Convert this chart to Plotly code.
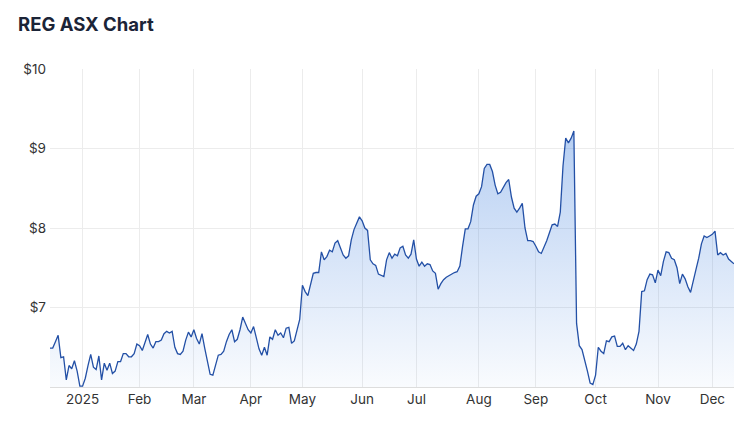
import pandas as pd
import plotly.graph_objects as go

# Daily closing prices (AUD), one list per month (ASX trading days)
dec_2024 = [6.49, 6.49, 6.57, 6.65, 6.37, 6.38, 6.09, 6.27, 6.23, 6.33, 6.20, 6.01]
jan_2025 = [6.01, 6.11, 6.27, 6.41, 6.25, 6.22, 6.39, 6.09, 6.30, 6.21, 6.30, 6.17, 6.20, 6.32,
            6.32, 6.42, 6.42, 6.38, 6.38, 6.42, 6.54]
feb_2025 = [6.52, 6.46, 6.55, 6.66, 6.54, 6.49, 6.57, 6.57, 6.59, 6.67, 6.70, 6.68, 6.70, 6.50,
            6.42, 6.41, 6.45, 6.59, 6.69, 6.63]
mar_2025 = [6.72, 6.61, 6.54, 6.67, 6.49, 6.30, 6.16, 6.15, 6.27, 6.40, 6.41, 6.45, 6.57, 6.66,
            6.72, 6.57, 6.60, 6.72, 6.88, 6.79, 6.72]
apr_2025 = [6.68, 6.76, 6.62, 6.48, 6.40, 6.50, 6.40, 6.63, 6.60, 6.72, 6.65, 6.68, 6.62, 6.74,
            6.75, 6.55, 6.58, 6.72, 6.85]
may_2025 = [7.28, 7.20, 7.15, 7.30, 7.43, 7.44, 7.44, 7.70, 7.60, 7.64, 7.72, 7.70, 7.81, 7.84,
            7.74, 7.66, 7.62, 7.65, 7.85, 7.98, 8.06, 8.14]
jun_2025 = [8.09, 8.00, 7.97, 7.60, 7.55, 7.53, 7.42, 7.40, 7.39, 7.60, 7.69, 7.62, 7.67, 7.65,
            7.75, 7.77, 7.66, 7.62, 7.67, 7.85]
jul_2025 = [7.61, 7.52, 7.57, 7.52, 7.55, 7.54, 7.46, 7.43, 7.23, 7.30, 7.35, 7.38, 7.40, 7.43,
            7.44, 7.45, 7.52, 7.77, 7.99, 7.99, 8.08, 8.29, 8.40]
aug_2025 = [8.43, 8.52, 8.75, 8.80, 8.80, 8.71, 8.54, 8.43, 8.45, 8.52, 8.57, 8.61, 8.39, 8.25,
            8.20, 8.25, 8.31, 8.00, 7.84, 7.84, 7.83]
sep_2025 = [7.77, 7.70, 7.68, 7.75, 7.84, 7.94, 8.04, 8.05, 8.02, 8.20, 8.78, 9.13, 9.07, 9.13,
            9.22, 6.80, 6.52, 6.47, 6.35, 6.20, 6.05, 6.03]
oct_2025 = [6.15, 6.50, 6.45, 6.42, 6.58, 6.57, 6.63, 6.64, 6.51, 6.51, 6.55, 6.47, 6.52, 6.49,
            6.46, 6.54, 6.70, 7.20, 7.21, 7.35, 7.42, 7.41, 7.31]
nov_2025 = [7.47, 7.40, 7.58, 7.70, 7.69, 7.62, 7.60, 7.50, 7.30, 7.42, 7.36, 7.26, 7.19, 7.32,
            7.48, 7.62, 7.80, 7.90, 7.88, 7.90]
dec_2025 = [7.92, 7.96, 7.66, 7.69, 7.66, 7.68, 7.61, 7.58, 7.55]

asx_holidays = ["2024-12-25", "2024-12-26", "2025-01-01", "2025-01-27", "2025-04-18",
                "2025-04-21", "2025-04-25", "2025-06-09"]
month_labels = ["2025", "Feb", "Mar", "Apr", "May", "Jun", "Jul", "Aug", "Sep", "Oct", "Nov", "Dec"]
y_ticks = [7, 8, 9, 10]
y_tick_labels = ["$7", "$8", "$9", "$10"]

prices = (dec_2024 + jan_2025 + feb_2025 + mar_2025 + apr_2025 + may_2025 + jun_2025 +
          jul_2025 + aug_2025 + sep_2025 + oct_2025 + nov_2025 + dec_2025)

days = pd.bdate_range("2024-12-12", "2025-12-11")
days = days[~days.isin(pd.to_datetime(asx_holidays))]
n = min(len(days), len(prices))
days = days[:n]
prices = prices[:n]
dates = [d.strftime("%Y-%m-%d") for d in days]

# first trading day of each month in 2025
s = pd.Series(dates, index=days)
s25 = s[s.index.year == 2025]
firsts = s25.groupby(s25.index.month).first().tolist()

fig = go.Figure()
fig.add_trace(go.Scatter(
    x=dates, y=prices, mode="lines",
    line=dict(color="#2350a6", width=1.3),
    fill="tozeroy",
    fillgradient=dict(type="vertical", start=6, stop=9.3,
                      colorscale=[[0, "rgba(59,125,221,0.03)"], [1, "rgba(59,125,221,0.38)"]]),
    hoverinfo="skip",
))

# page body has an 8px margin, so the figure is drawn 8px in from the window edge
fig.update_layout(
    width=742, height=427,
    margin=dict(l=42, r=16, t=61, b=48),
    paper_bgcolor="white", plot_bgcolor="white",
    showlegend=False,
    font=dict(family="Inter, 'Noto Sans', sans-serif", size=13.5, color="#333333"),
    title=dict(text="REG ASX Chart", x=10 / 742, xref="container", xanchor="left",
               y=1 - 17 / 427, yref="container", yanchor="middle",
               font=dict(family="Inter, sans-serif", size=18.5, color="#1b2437", weight=700)),
)
fig.update_xaxes(
    type="category", range=[0, n - 1],
    tickmode="array", tickvals=firsts, ticktext=month_labels[:len(firsts)],
    showgrid=True, gridcolor="#ececec", gridwidth=1,
    showline=True, linecolor="#dddddd", linewidth=1,
    ticks="", tickfont=dict(size=13.5, color="#333333"),
)
fig.update_yaxes(
    range=[6, 10], tickmode="array", tickvals=y_ticks, ticktext=y_tick_labels,
    showgrid=True, gridcolor="#ececec", gridwidth=1,
    zeroline=False, ticks="", ticklabelstandoff=3,
    tickfont=dict(size=13.5, color="#333333"),
)

fig.write_html("out.html")
